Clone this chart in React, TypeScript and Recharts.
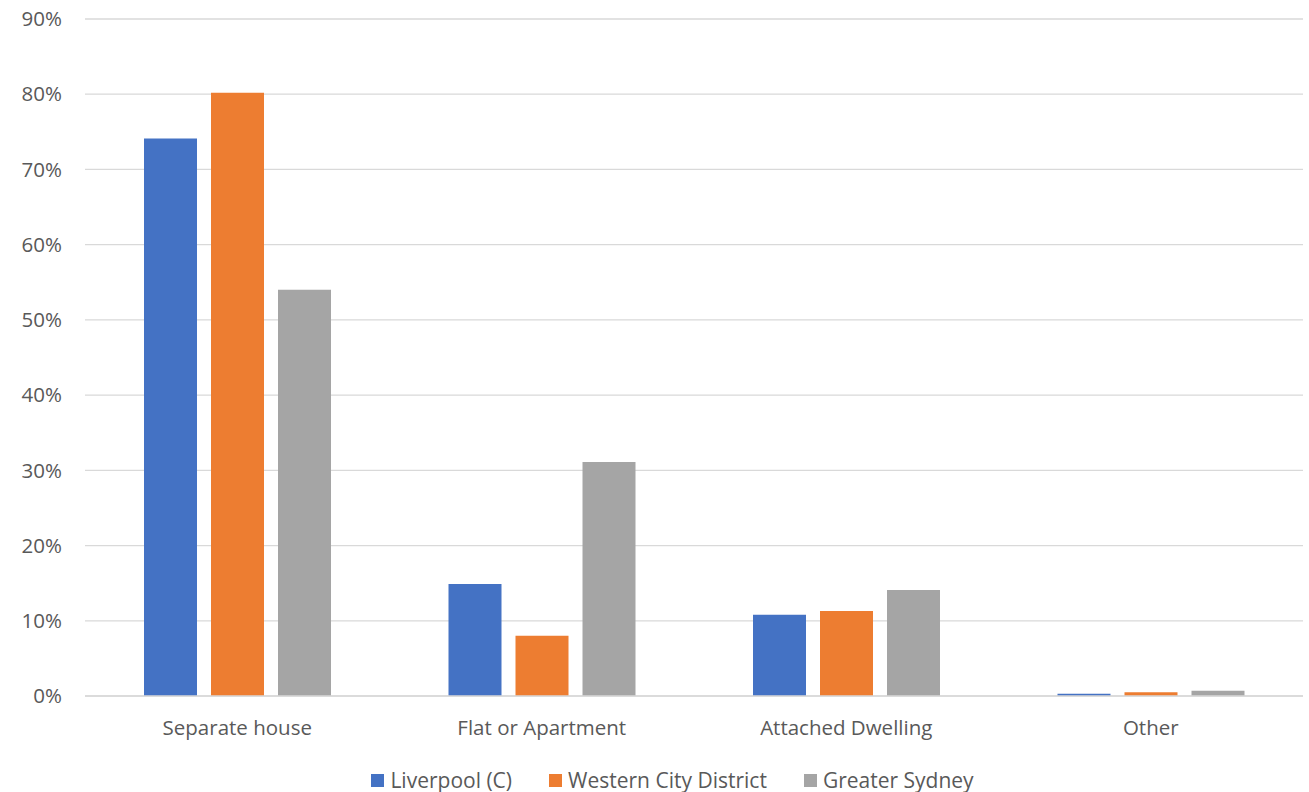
import React from "react";
import { BarChart, Bar, XAxis, YAxis, CartesianGrid, Legend } from "recharts";

const categories = ["Separate house", "Flat or Apartment", "Attached Dwelling", "Other"];
const liverpool = [74.1, 14.9, 10.8, 0.3];
const westernCity = [80.2, 8.0, 11.3, 0.5];
const greaterSydney = [54.0, 31.1, 14.1, 0.7];
const yTicks = [0, 10, 20, 30, 40, 50, 60, 70, 80, 90];
const seriesNames = ["Liverpool (C)", "Western City District", "Greater Sydney"];
const seriesColors = ["#4472C4", "#ED7D31", "#A5A5A5"];

const data = categories.map((c, i) => ({
  name: c,
  liverpool: liverpool[i],
  western: westernCity[i],
  sydney: greaterSydney[i],
}));

const FONT = "'Open Sans', sans-serif";
const TEXT = "#595959";
const FS = 20.5;

const LegendContent = () => (
  <div style={{ display: "flex", justifyContent: "center", alignItems: "center", height: 24, paddingLeft: 42, fontFamily: FONT, fontSize: 21, color: TEXT }}>
    {seriesNames.map((n, i) => (
      <div key={n} style={{ display: "flex", alignItems: "center", marginRight: i < 2 ? 37 : 0 }}>
        <span style={{ display: "inline-block", width: 13, height: 13, background: seriesColors[i], marginRight: 6 }} />
        <span>{n}</span>
      </div>
    ))}
  </div>
);

export default function App() {
  return (
    <div style={{ position: "absolute", top: 0, left: 0, width: 1309, height: 792, fontFamily: FONT }}>
      <BarChart
        width={1309}
        height={792}
        data={data}
        margin={{ top: 19, right: 6, left: 0, bottom: 0 }}
        barGap={14}
        barSize={53}
      >
        <CartesianGrid vertical={false} stroke="#d9d9d9" strokeWidth={1.3} />
        <XAxis
          dataKey="name"
          axisLine={{ stroke: "#d9d9d9", strokeWidth: 1.3 }}
          tickLine={false}
          tick={{ fill: TEXT, fontSize: FS, fontFamily: FONT }}
          tickMargin={18}
          height={72}
        />
        <YAxis
          domain={[0, 90]}
          ticks={yTicks}
          tickFormatter={(v: number) => `${v}%`}
          axisLine={false}
          tickLine={false}
          tickSize={0}
          tickMargin={23}
          width={85}
          interval={0}
          tick={{ fill: TEXT, fontSize: FS, fontFamily: FONT }}
        />
        <Legend verticalAlign="bottom" height={24} content={<LegendContent />} />
        <Bar dataKey="liverpool" name={seriesNames[0]} fill={seriesColors[0]} isAnimationActive={false} />
        <Bar dataKey="western" name={seriesNames[1]} fill={seriesColors[1]} isAnimationActive={false} />
        <Bar dataKey="sydney" name={seriesNames[2]} fill={seriesColors[2]} isAnimationActive={false} />
      </BarChart>
    </div>
  );
}
